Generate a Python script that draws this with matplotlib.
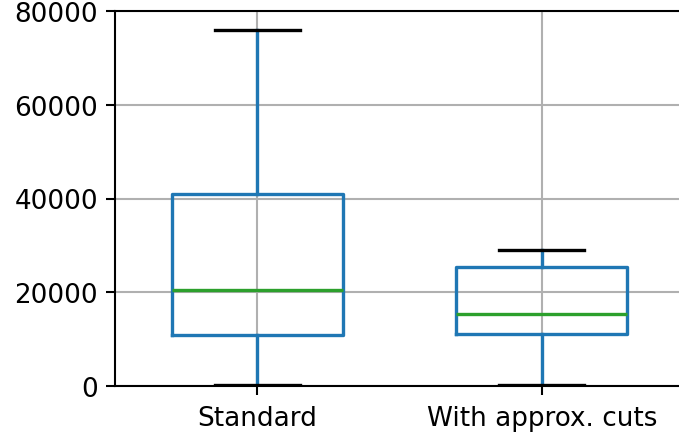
import matplotlib
matplotlib.use("Agg")
import matplotlib.pyplot as plt

# Summary statistics for each configuration
labels = ["Standard", "With approx. cuts"]
whisker_low = [300, 300]
q1 = [10900, 11100]
median = [20500, 15400]
q3 = [41000, 25400]
whisker_high = [75900, 29000]

stats = []
for i, lab in enumerate(labels):
    stats.append({
        "label": lab,
        "whislo": whisker_low[i],
        "q1": q1[i],
        "med": median[i],
        "q3": q3[i],
        "whishi": whisker_high[i],
        "fliers": [],
    })

DPI = 166
plt.rcParams["font.size"] = 11.4
fig = plt.figure(figsize=(679 / DPI, 436 / DPI), dpi=DPI)
ax = fig.add_axes([115 / 679, 49 / 436, 569 / 679, 375 / 436])

blue = "#1f77b4"
lw = 1.45
ax.bxp(
    stats,
    positions=[1, 2],
    widths=0.6,
    showfliers=False,
    boxprops=dict(color=blue, linewidth=lw),
    whiskerprops=dict(color=blue, linewidth=lw),
    capprops=dict(color="black", linewidth=lw),
    medianprops=dict(color="#2ca02c", linewidth=lw),
)

ax.set_xlim(0.5, 2.5)
ax.set_ylim(0, 80000)
ax.set_yticks([0, 20000, 40000, 60000, 80000])
ax.grid(True, color="#b0b0b0", linewidth=0.9)
ax.set_axisbelow(True)
for s in ax.spines.values():
    s.set_linewidth(0.9)
ax.tick_params(width=0.9, length=3.8)
ax.tick_params(axis="x", pad=4.5)

fig.savefig("out.png", dpi=DPI)
